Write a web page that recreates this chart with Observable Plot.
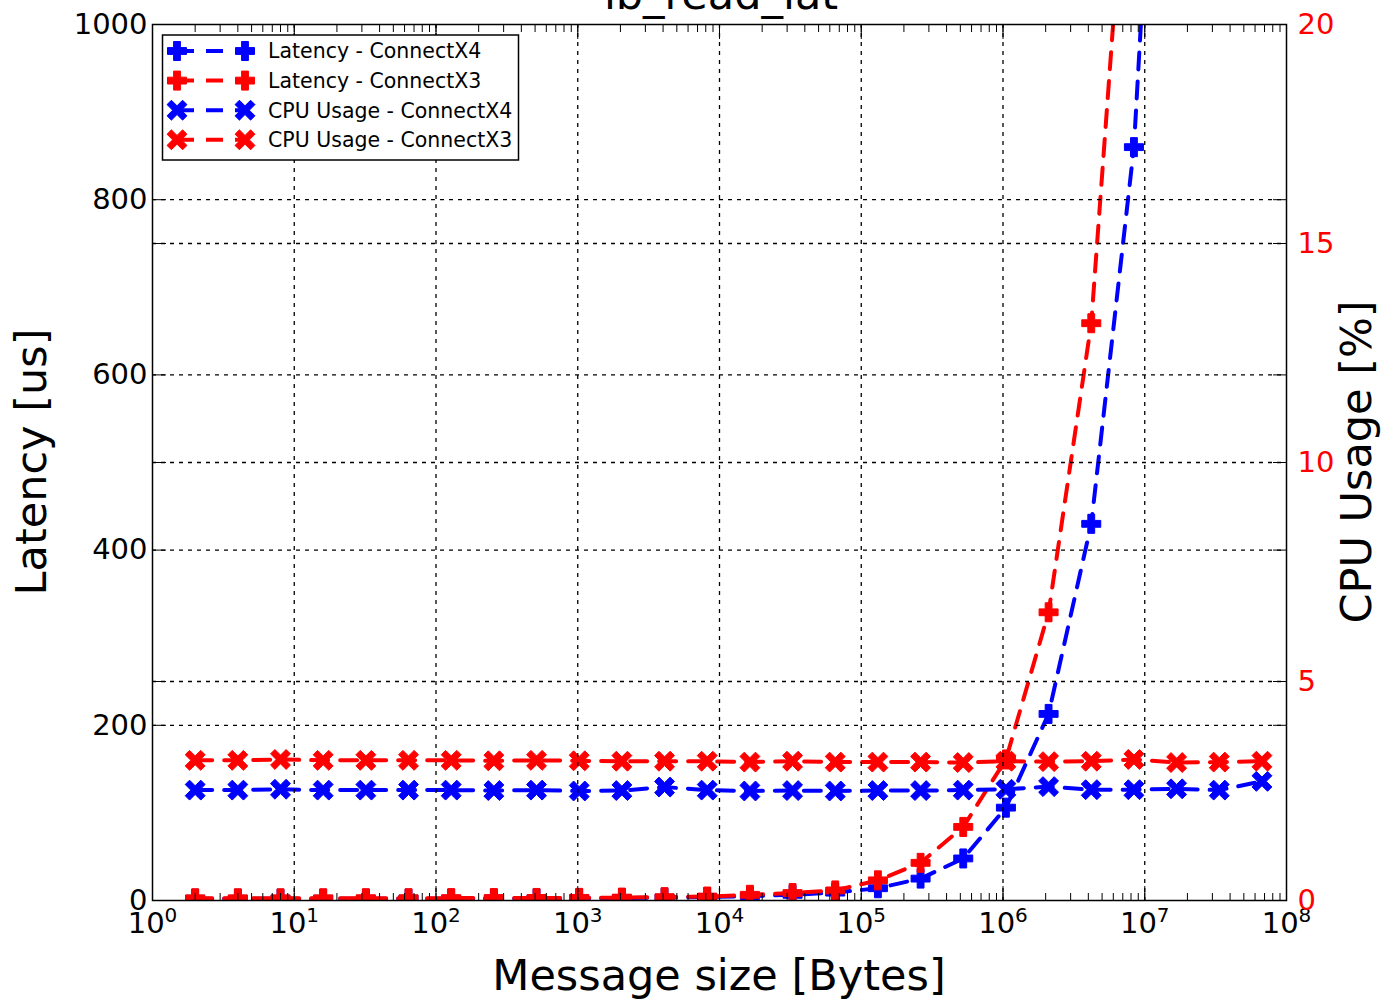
<!DOCTYPE html>
<html><head><meta charset="utf-8">
<script src="https://cdn.jsdelivr.net/npm/d3@7"></script>
<script src="https://cdn.jsdelivr.net/npm/@observablehq/plot@0.6"></script>
<style>
html,body{margin:0;padding:0;background:#fff;overflow:hidden;}
#chart{position:relative;width:1389px;height:1001px;overflow:hidden;}
</style></head><body><div id="chart"></div>
<script>
// ---- data ----
const sizes = [2,4,8,16,32,64,128,256,512,1024,2048,4096,8192,16384,32768,65536,131072,262144,524288,1048576,2097152,4194304,8388608,16777216,33554432,67108864];
// Latency [us]
const latencyX4 = [2.0,2.0,2.0,2.0,2.0,2.1,2.1,2.2,2.3,2.5,2.8,3.2,4.0,5.0,6.5,9.0,14,25,48,106,213,430,860,1720];
const latencyX3 = [2.5,2.5,2.5,2.5,2.6,2.6,2.7,2.8,2.9,3.0,3.3,3.8,4.5,6.5,8.5,11.5,23,43,84,161,329,659,1325];
// CPU usage [%]
const cpuX4 = [2.52,2.52,2.54,2.52,2.52,2.52,2.52,2.51,2.52,2.50,2.51,2.59,2.52,2.50,2.51,2.50,2.51,2.51,2.52,2.54,2.60,2.53,2.53,2.55,2.52,2.72];
const cpuX3 = [3.20,3.20,3.22,3.20,3.20,3.20,3.20,3.19,3.20,3.19,3.18,3.18,3.18,3.16,3.18,3.16,3.16,3.16,3.15,3.18,3.17,3.18,3.22,3.15,3.16,3.18];
const seriesNames = ["Latency - ConnectX4","Latency - ConnectX3","CPU Usage - ConnectX4","CPU Usage - ConnectX3"];
const leftTicks = [0,200,400,600,800,1000];
const rightTicks = [0,5,10,15,20];
const xDecades = [1,10,100,1000,10000,100000,1000000,10000000,100000000];
const latMax = 1000, cpuMax = 20;
const k = latMax / cpuMax;

const BLUE = "#0000ff", RED = "#ff0000";

function crossSymbol(angle, tRatio) {
  return {draw(ctx, size) {
    const h = Math.sqrt(size / Math.PI), t = h * tRatio;
    const pts = [[-t,-h],[t,-h],[t,-t],[h,-t],[h,t],[t,t],[t,h],[-t,h],[-t,t],[-h,t],[-h,-t],[-t,-t]];
    const c = Math.cos(angle), s = Math.sin(angle);
    pts.forEach(([x,y],i) => { const X = x*c - y*s, Y = x*s + y*c; i ? ctx.lineTo(X,Y) : ctx.moveTo(X,Y); });
    ctx.closePath();
  }};
}
const plusSym = crossSymbol(0, 0.36);
const xSym = crossSymbol(Math.PI/4, 0.28);
const PLUS_R = 9.5, X_R = 11;

const lat4 = latencyX4.map((v,i) => ({size: sizes[i], v}));
const lat3 = latencyX3.map((v,i) => ({size: sizes[i], v}));
const cpu4 = cpuX4.map((v,i) => ({size: sizes[i], v: v * k}));
const cpu3 = cpuX3.map((v,i) => ({size: sizes[i], v: v * k}));

const DASH = "17,12";
function series(data, color, sym, r) {
  return [
    Plot.line(data, {x: "size", y: "v", stroke: color, strokeWidth: 4, strokeDasharray: DASH, clip: true}),
    Plot.dot(data, {x: "size", y: "v", symbol: sym, r, fill: color, stroke: color, strokeWidth: 1, clip: true})
  ];
}
const gridStyle = {stroke: "black", strokeWidth: 1.3, strokeDasharray: "4,5", strokeOpacity: 1};

const chart = Plot.plot({
  width: 1389, height: 1001,
  marginLeft: 152, marginRight: 103, marginTop: 24, marginBottom: 101,
  style: {fontFamily: "'DejaVu Sans', sans-serif", background: "white", color: "black"},
  x: {type: "log", domain: [1, 1e8]},
  y: {domain: [0, latMax]},
  marks: [
    ...series(lat4, BLUE, plusSym, PLUS_R),
    ...series(lat3, RED, plusSym, PLUS_R),
    ...series(cpu4, BLUE, xSym, X_R),
    ...series(cpu3, RED, xSym, X_R),
    Plot.ruleX(xDecades.slice(1, -1), gridStyle),
    Plot.ruleY(leftTicks.slice(1, -1), gridStyle),
    Plot.ruleY(rightTicks.slice(1, -1).map(v => v * k), gridStyle),
    Plot.frame({stroke: "black", strokeWidth: 1.5}),
    // ticks (inward)
    Plot.axisX({anchor: "bottom", ticks: 80, tickSize: -7, tickFormat: () => "", label: null}),
    Plot.axisX({anchor: "top", ticks: 80, tickSize: -7, tickFormat: () => "", label: null}),
    Plot.axisX({anchor: "bottom", ticks: xDecades, tickSize: -14, tickFormat: () => "", label: null}),
    Plot.axisX({anchor: "top", ticks: xDecades, tickSize: -14, tickFormat: () => "", label: null}),
    Plot.axisY({anchor: "left", ticks: leftTicks, tickSize: -14, tickFormat: () => "", label: null}),
    Plot.axisY({anchor: "right", ticks: leftTicks, tickSize: -14, tickFormat: () => "", label: null}),
    Plot.axisY({anchor: "left", ticks: rightTicks.map(v => v * k), tickSize: -14, tickFormat: () => "", label: null}),
    Plot.axisY({anchor: "right", ticks: rightTicks.map(v => v * k), tickSize: -14, tickFormat: () => "", label: null}),
    // labels
    Plot.axisX({anchor: "bottom", ticks: xDecades, tickSize: 0, tickPadding: 12, fontSize: 29,
      tickFormat: d => `10^${Math.round(Math.log10(d))}`, label: null}),
    Plot.axisY({anchor: "left", ticks: leftTicks, tickSize: 0, tickPadding: 5, fontSize: 29,
      tickFormat: d => String(d), label: null}),
    Plot.axisY({anchor: "right", ticks: rightTicks.map(v => v * k), tickSize: 0, tickPadding: 11, fontSize: 29,
      color: RED, tickFormat: d => String(Math.round(d / k)), label: null})
  ]
});
document.getElementById("chart").appendChild(chart);

const svg = d3.select(chart);
// superscript exponents
svg.selectAll("text").each(function() {
  const t = d3.select(this), m = /^10\^(\d+)$/.exec(t.text());
  if (!m) return;
  t.text("");
  t.append("tspan").text("10");
  t.append("tspan").attr("dy", -11).attr("font-size", "20px").text(m[1]);
});
// red right labels (fallback)
svg.selectAll("g[aria-label='y-axis tick label']").each(function() {
  const g = d3.select(this);
  if (g.attr("text-anchor") === "start") g.attr("fill", RED);
});

const fam = "'DejaVu Sans', sans-serif";
svg.append("text").attr("x", 721).attr("y", 9).attr("text-anchor", "middle")
  .attr("font-size", 43).attr("font-family", fam).attr("fill", "black").text("ib_read_lat");
svg.append("text").attr("x", 719).attr("y", 990).attr("text-anchor", "middle")
  .attr("font-size", 43).attr("font-family", fam).attr("fill", "black").text("Message size [Bytes]");
svg.append("text").attr("transform", "translate(46,462) rotate(-90)").attr("text-anchor", "middle")
  .attr("font-size", 43).attr("font-family", fam).attr("fill", "black").text("Latency [us]");
svg.append("text").attr("transform", "translate(1371,462) rotate(-90)").attr("text-anchor", "middle")
  .attr("font-size", 43).attr("font-family", fam).attr("fill", "black").text("CPU Usage [%]");

// legend
const legendItems = [
  {name: seriesNames[0], color: BLUE, sym: plusSym, r: PLUS_R},
  {name: seriesNames[1], color: RED, sym: plusSym, r: PLUS_R},
  {name: seriesNames[2], color: BLUE, sym: xSym, r: X_R},
  {name: seriesNames[3], color: RED, sym: xSym, r: X_R}
];
const lg = svg.append("g").attr("font-family", fam).attr("text-anchor", "start");
lg.append("rect").attr("x", 162.5).attr("y", 35).attr("width", 356).attr("height", 125)
  .attr("fill", "white").attr("stroke", "black").attr("stroke-width", 1.5);
legendItems.forEach((it, i) => {
  const cy = 51 + i * 29.6;
  lg.append("line").attr("x1", 177).attr("x2", 245).attr("y1", cy).attr("y2", cy)
    .attr("stroke", it.color).attr("stroke-width", 4).attr("stroke-dasharray", DASH);
  [177, 245].forEach(cx => {
    lg.append("path").attr("transform", `translate(${cx},${cy})`)
      .attr("d", d3.symbol(it.sym, Math.PI * it.r * it.r)())
      .attr("fill", it.color).attr("stroke", it.color).attr("stroke-width", 1);
  });
  lg.append("text").attr("x", 268).attr("y", cy).attr("dy", "0.36em").attr("text-anchor", "start")
    .attr("font-size", 20.5).attr("fill", "black").text(it.name);
});
</script></body></html>
